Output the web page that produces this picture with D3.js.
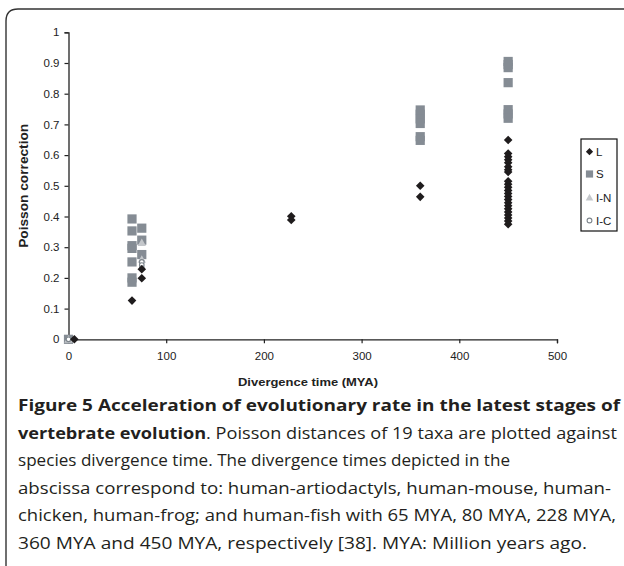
<!DOCTYPE html>
<html><head><meta charset="utf-8">
<script src="https://cdn.jsdelivr.net/npm/d3@7/dist/d3.min.js"></script>
<style>body{margin:0;background:#fff}svg{display:block}</style>
</head><body>
<script>
// ---- data ----
const seriesNames = ["L", "S", "I-N", "I-C"];
const lTimes  = [6, 65, 75, 75, 228, 228, 360, 360,
  450, 450, 450, 450, 450, 450, 450, 450,
  450, 450, 450, 450, 450, 450, 450, 450, 450, 450, 450, 450, 450, 450, 450];
const lValues = [0, 0.126, 0.228, 0.199, 0.401, 0.389, 0.500, 0.464,
  0.649, 0.605, 0.595, 0.585, 0.575, 0.562, 0.552, 0.545,
  0.515, 0.505, 0.495, 0.485, 0.475, 0.465, 0.455, 0.445, 0.435, 0.425, 0.415, 0.405, 0.395, 0.385, 0.375];
const sTimes  = [0, 65, 65, 65, 65, 65, 65, 65, 75, 75, 75,
  360, 360, 360, 360, 360, 360, 450, 450, 450, 450, 450, 450, 450];
const sValues = [0, 0.392, 0.353, 0.305, 0.296, 0.252, 0.200, 0.186, 0.362, 0.323, 0.276,
  0.747, 0.733, 0.718, 0.703, 0.660, 0.648, 0.905, 0.895, 0.885, 0.836, 0.748, 0.734, 0.720];
const inTimes  = [0, 75, 75];
const inValues = [0, 0.315, 0.260];
const icTimes  = [0, 75, 75, 75];
const icValues = [0, 0.252, 0.242, 0.232];
const xTicks = [0, 100, 200, 300, 400, 500];
const yTicks = [0, 0.1, 0.2, 0.3, 0.4, 0.5, 0.6, 0.7, 0.8, 0.9, 1];
const xTitle = "Divergence time (MYA)";
const yTitle = "Poisson correction";
const captionLines = [
  [["Figure 5 Acceleration of evolutionary rate in the latest stages of", true]],
  [["vertebrate evolution", true], [". Poisson distances of 19 taxa are plotted against", false]],
  [["species divergence time. The divergence times depicted in the", false]],
  [["abscissa correspond to: human-artiodactyls, human-mouse, human-", false]],
  [["chicken, human-frog; and human-fish with 65 MYA, 80 MYA, 228 MYA,", false]],
  [["360 MYA and 450 MYA, respectively [38]. MYA: Million years ago.", false]]
];

// ---- drawing ----
const W = 624, H = 566;
const svg = d3.select("body").append("svg").attr("width", W).attr("height", H);
const chartFont = "'Liberation Sans', Arial, sans-serif";

// frame
svg.append("path")
  .attr("d", "M6,566 L6,21 Q6,9 18,9 L624,9")
  .attr("fill", "none").attr("stroke", "#333").attr("stroke-width", 1.4);

const x = d3.scaleLinear().domain([0, 500]).range([68.5, 557]);
const y = d3.scaleLinear().domain([0, 1]).range([339.3, 32.3]);

const gy = svg.append("g").attr("transform", `translate(${x(0)},0)`)
  .call(d3.axisLeft(y).tickValues(yTicks).tickSize(4).tickPadding(5)
    .tickFormat(d => String(+d.toFixed(1))));
const gx = svg.append("g").attr("transform", `translate(0,${y(0)})`)
  .call(d3.axisBottom(x).tickValues(xTicks).tickSize(4).tickPadding(9));
[gx, gy].forEach(g => {
  g.select(".domain").attr("stroke", "#222").attr("stroke-width", 1.3);
  g.selectAll(".tick line").attr("stroke", "#222").attr("stroke-width", 1.2);
  g.selectAll(".tick text").attr("fill", "#222")
    .style("font-family", chartFont).style("font-size", "11.5px");
});

svg.append("text").attr("transform", `translate(28,${(y(0)+y(1))/2}) rotate(-90)`)
  .attr("text-anchor", "middle").style("font-family", chartFont)
  .style("font-size", "12px").style("font-weight", "bold").attr("fill", "#222")
  .attr("textLength", 124).attr("lengthAdjust", "spacingAndGlyphs")
  .text(yTitle);
svg.append("text").attr("x", 308).attr("y", 386).attr("text-anchor", "middle")
  .style("font-family", chartFont).style("font-size", "11.5px").style("font-weight", "bold")
  .attr("textLength", 140).attr("lengthAdjust", "spacingAndGlyphs")
  .attr("fill", "#222").text(xTitle);

// symbols
const diamond = (s) => `M0,${-s} L${s},0 L0,${s} L${-s},0 Z`;
const square = (s) => `M${-s},${-s} H${s} V${s} H${-s} Z`;
const tri = (s) => `M0,${-s} L${s},${s*0.8} L${-s},${s*0.8} Z`;

const plot = svg.append("g");
const toPts = (xs, ys) => xs.map((t, i) => [t, ys[i]]);

plot.selectAll(".s").data(toPts(sTimes, sValues)).join("path")
  .attr("transform", d => `translate(${x(d[0])},${y(d[1])})`)
  .attr("d", square(4.6)).attr("fill", "#858c94");
plot.selectAll(".in").data(toPts(inTimes, inValues)).join("path")
  .attr("transform", d => `translate(${x(d[0])},${y(d[1])})`)
  .attr("d", tri(4.2)).attr("fill", "#c4c7cb");
plot.selectAll(".ic").data(toPts(icTimes, icValues)).join("circle")
  .attr("cx", d => x(d[0])).attr("cy", d => y(d[1])).attr("r", 2.3)
  .attr("fill", "#fff").attr("stroke", "#7d858c").attr("stroke-width", 1.1);
plot.selectAll(".l").data(toPts(lTimes, lValues)).join("path")
  .attr("transform", d => `translate(${x(d[0])},${y(d[1])})`)
  .attr("d", diamond(4.3)).attr("fill", "#1f1c1d");

// legend
const leg = svg.append("g");
leg.append("rect").attr("x", 581).attr("y", 139).attr("width", 36).attr("height", 92)
  .attr("fill", "#fff").attr("stroke", "#111").attr("stroke-width", 1.2);
const legY = [151.7, 174, 197.5, 220.5];
seriesNames.forEach((n, i) => {
  const g = leg.append("g").attr("transform", `translate(589.5,${legY[i]})`);
  if (i === 0) g.append("path").attr("d", diamond(3.6)).attr("fill", "#1f1c1d");
  if (i === 1) g.append("path").attr("d", square(3.6)).attr("fill", "#858c94");
  if (i === 2) g.append("path").attr("d", tri(3.8)).attr("fill", "#c4c7cb");
  if (i === 3) g.append("circle").attr("r", 2.4).attr("fill", "#fff").attr("stroke", "#7d858c").attr("stroke-width", 1.1);
  leg.append("text").attr("x", 596).attr("y", legY[i] + 4).style("font-family", chartFont)
    .style("font-size", "11.5px").attr("fill", "#222").text(n);
});

// caption
const capBase = [411, 438.5, 466, 493.5, 521, 548.5];
const capEnds = [620, 617, 510, 611, 616, 587];
captionLines.forEach((parts, i) => {
  const t = svg.append("text").attr("x", 18).attr("y", capBase[i])
    .attr("textLength", capEnds[i] - 18).attr("lengthAdjust", "spacingAndGlyphs")
    .style("font-family", "'Open Sans', sans-serif").style("font-size", "15.5px").attr("fill", "#231f20");
  parts.forEach(([s, b]) => t.append("tspan").style("font-weight", b ? "bold" : "normal").text(s));
});
</script>
</body></html>
